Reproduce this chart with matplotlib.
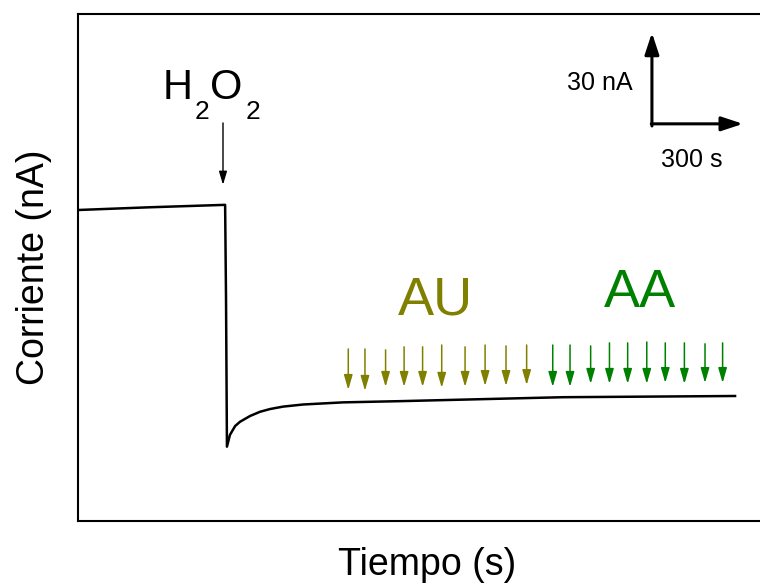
import matplotlib
matplotlib.use("Agg")
import matplotlib.pyplot as plt

plt.rcParams["font.family"] = ["Liberation Sans", "DejaVu Sans"]

# amperometric trace (time in s, current in nA)
time_s = [0, 237, 485, 488, 491, 501, 518, 534, 567, 600, 633, 676, 742,
          874, 1062, 1391, 1599, 1886, 2166]
current_na = [102.5, 103.4, 104.2, 72.9, 24.5, 28.4, 31.3, 32.7, 34.6, 36.0,
              36.9, 37.7, 38.4, 39.1, 39.5, 40.3, 40.8, 41.0, 41.2]

# injection arrows: uric acid (AU) and ascorbic acid (AA)
au_times = [891, 946, 1014, 1075, 1136, 1199, 1276, 1342, 1411, 1479]
au_top = [56.7, 56.7, 56.4, 57.4, 57.4, 58.0, 57.4, 58.0, 57.7, 58.0]
au_tip = [43.2, 42.9, 44.2, 44.2, 44.2, 43.9, 44.2, 44.5, 44.5, 44.8]
aa_times = [1565, 1622, 1690, 1752, 1812, 1875, 1936, 1999, 2067, 2125]
aa_top = [58.0, 58.0, 57.7, 58.7, 58.7, 59.0, 58.7, 58.7, 58.4, 58.7]
aa_tip = [44.2, 44.2, 45.2, 45.2, 45.2, 45.2, 45.5, 45.2, 45.5, 45.5]

h2o2_time = 478
h2o2_from, h2o2_to = 131.2, 110.8

bar_origin = (1892, 130.9)
bar_dt, bar_di = 300, 30

fig = plt.figure(figsize=(7.6, 5.87), dpi=100)
ax = fig.add_axes([78 / 760, 66 / 587, 698 / 760, 507 / 587])

ax.plot(time_s, current_na, color="black", lw=1.8)

for t, top, tip in zip(au_times, au_top, au_tip):
    ax.annotate("", xy=(t, tip), xytext=(t, top),
                arrowprops=dict(arrowstyle="-|>,head_length=9,head_width=2.6",
                                mutation_scale=1, color="#808000", lw=1.1,
                                shrinkA=0, shrinkB=0))
for t, top, tip in zip(aa_times, aa_top, aa_tip):
    ax.annotate("", xy=(t, tip), xytext=(t, top),
                arrowprops=dict(arrowstyle="-|>,head_length=9,head_width=2.6",
                                mutation_scale=1, color="#008000", lw=1.1,
                                shrinkA=0, shrinkB=0))

ax.annotate("", xy=(h2o2_time, h2o2_to), xytext=(h2o2_time, h2o2_from),
            arrowprops=dict(arrowstyle="-|>,head_length=8,head_width=2.4",
                            mutation_scale=1, color="black", lw=1.0,
                            shrinkA=0, shrinkB=0))
# H2O2 with low subscripts, placed piece by piece
ax.text(280, 139.0, "H", fontsize=30, ha="left", va="baseline")
ax.text(386, 132.5, "2", fontsize=19, ha="left", va="baseline")
ax.text(435, 139.0, "O", fontsize=30, ha="left", va="baseline")
ax.text(551, 132.5, "2", fontsize=19, ha="left", va="baseline")

ax.text(1177, 68.2, "AU", fontsize=39, color="#808000", ha="center", va="baseline")
ax.text(1853, 70.6, "AA", fontsize=39, color="#008000", ha="center", va="baseline")

# scale bar
x0, y0 = bar_origin
ax.annotate("", xy=(x0, y0 + bar_di), xytext=(x0, y0 - 0.7),
            arrowprops=dict(arrowstyle="-|>,head_length=13,head_width=4.3",
                            mutation_scale=1, color="black", lw=2.2,
                            shrinkA=0, shrinkB=0))
ax.annotate("", xy=(x0 + bar_dt, y0), xytext=(x0 - 2, y0),
            arrowprops=dict(arrowstyle="-|>,head_length=13,head_width=4.3",
                            mutation_scale=1, color="black", lw=2.2,
                            shrinkA=0, shrinkB=0))
ax.text(1827, 142.1, "30 nA", fontsize=18, ha="right", va="baseline")
ax.text(2023, 116.8, "300 s", fontsize=18, ha="center", va="baseline")

ax.set_xlim(0, 2301)
ax.set_ylim(0, 167.1)
ax.set_xticks([])
ax.set_yticks([])
ax.spines["right"].set_visible(False)
for s in ax.spines.values():
    s.set_linewidth(1.5)
ax.set_xlabel("Tiempo (s)", fontsize=27, labelpad=19)
ax.set_ylabel("Corriente (nA)", fontsize=27, labelpad=19)

fig.savefig("out.png", dpi=100)
